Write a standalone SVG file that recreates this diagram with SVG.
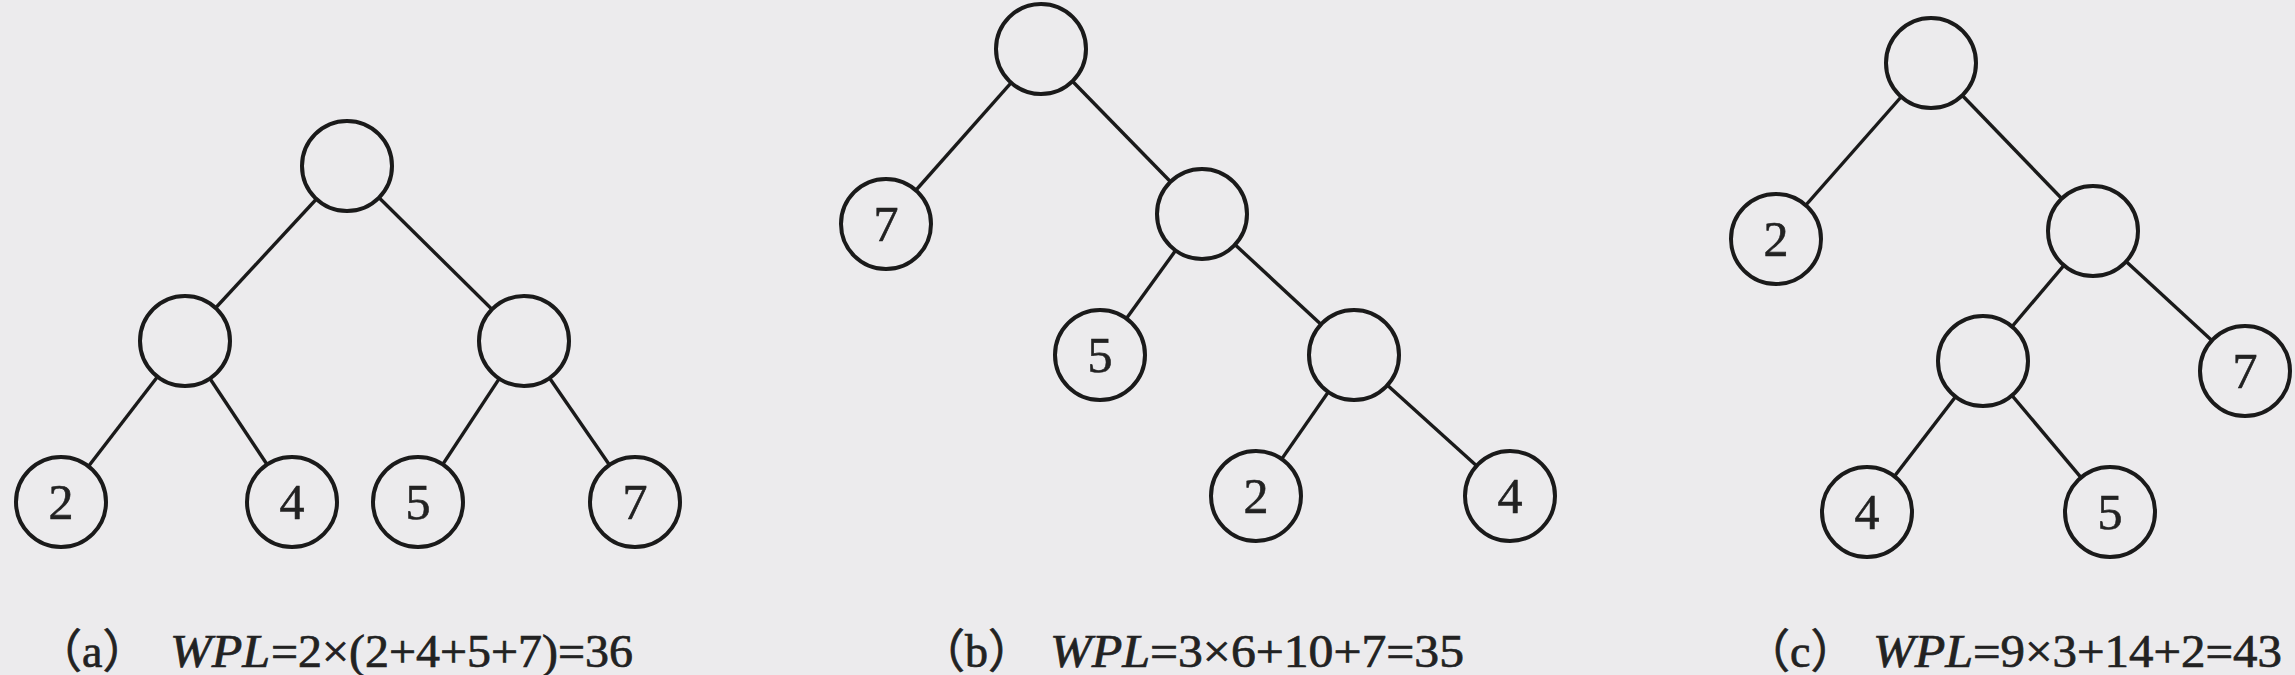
<svg xmlns="http://www.w3.org/2000/svg" width="2295" height="675" viewBox="0 0 2295 675">
<style>
.bg{fill:#ECEBED}
.e{stroke:#1a1a1a;stroke-width:3.4;fill:none}
.n{fill:#ECEBED;stroke:#1a1a1a;stroke-width:4}
.d{font-family:"Liberation Serif","Times New Roman",serif;font-size:50px;fill:#222;stroke:#222;stroke-width:0.6;text-anchor:middle}
.c{font-family:"Liberation Serif","Noto Sans CJK SC",serif;font-size:46px;fill:#222;stroke:#222;stroke-width:0.7}
.i{font-style:italic}
</style>
<rect class="bg" x="0" y="0" width="2295" height="675"/>
<g id="connectors">
<!-- tree a -->
<line class="e" x1="347" y1="166" x2="185" y2="341"/>
<line class="e" x1="347" y1="166" x2="524" y2="341"/>
<line class="e" x1="185" y1="341" x2="61" y2="502"/>
<line class="e" x1="185" y1="341" x2="292" y2="502"/>
<line class="e" x1="524" y1="341" x2="418" y2="502"/>
<line class="e" x1="524" y1="341" x2="635" y2="502"/>
<!-- tree b -->
<line class="e" x1="1041" y1="49" x2="886" y2="224"/>
<line class="e" x1="1041" y1="49" x2="1202" y2="214"/>
<line class="e" x1="1202" y1="214" x2="1100" y2="355"/>
<line class="e" x1="1202" y1="214" x2="1354" y2="355"/>
<line class="e" x1="1354" y1="355" x2="1256" y2="496"/>
<line class="e" x1="1354" y1="355" x2="1510" y2="496"/>
<!-- tree c -->
<line class="e" x1="1931" y1="63" x2="1776" y2="239"/>
<line class="e" x1="1931" y1="63" x2="2093" y2="231"/>
<line class="e" x1="2093" y1="231" x2="1983" y2="361"/>
<line class="e" x1="2093" y1="231" x2="2245" y2="371"/>
<line class="e" x1="1983" y1="361" x2="1867" y2="512"/>
<line class="e" x1="1983" y1="361" x2="2110" y2="512"/>
</g>
<g id="a-root"><circle class="n" cx="347" cy="166" r="45"/></g>
<g id="a-left"><circle class="n" cx="185" cy="341" r="45"/></g>
<g id="a-right"><circle class="n" cx="524" cy="341" r="45"/></g>
<g id="a-leaf2"><circle class="n" cx="61" cy="502" r="45"/><text class="d" x="61" y="519">2</text></g>
<g id="a-leaf4"><circle class="n" cx="292" cy="502" r="45"/><text class="d" x="292" y="519">4</text></g>
<g id="a-leaf5"><circle class="n" cx="418" cy="502" r="45"/><text class="d" x="418" y="519">5</text></g>
<g id="a-leaf7"><circle class="n" cx="635" cy="502" r="45"/><text class="d" x="635" y="519">7</text></g>

<g id="b-root"><circle class="n" cx="1041" cy="49" r="45"/></g>
<g id="b-leaf7"><circle class="n" cx="886" cy="224" r="45"/><text class="d" x="886" y="241">7</text></g>
<g id="b-mid1"><circle class="n" cx="1202" cy="214" r="45"/></g>
<g id="b-leaf5"><circle class="n" cx="1100" cy="355" r="45"/><text class="d" x="1100" y="372">5</text></g>
<g id="b-mid2"><circle class="n" cx="1354" cy="355" r="45"/></g>
<g id="b-leaf2"><circle class="n" cx="1256" cy="496" r="45"/><text class="d" x="1256" y="513">2</text></g>
<g id="b-leaf4"><circle class="n" cx="1510" cy="496" r="45"/><text class="d" x="1510" y="513">4</text></g>

<g id="c-root"><circle class="n" cx="1931" cy="63" r="45"/></g>
<g id="c-leaf2"><circle class="n" cx="1776" cy="239" r="45"/><text class="d" x="1776" y="256">2</text></g>
<g id="c-mid1"><circle class="n" cx="2093" cy="231" r="45"/></g>
<g id="c-mid2"><circle class="n" cx="1983" cy="361" r="45"/></g>
<g id="c-leaf7"><circle class="n" cx="2245" cy="371" r="45"/><text class="d" x="2245" y="388">7</text></g>
<g id="c-leaf4"><circle class="n" cx="1867" cy="512" r="45"/><text class="d" x="1867" y="529">4</text></g>
<g id="c-leaf5"><circle class="n" cx="2110" cy="512" r="45"/><text class="d" x="2110" y="529">5</text></g>

<g id="captions">
<text class="c" x="36" y="667">（a）</text>
<text class="c i" x="170" y="667" textLength="100" lengthAdjust="spacingAndGlyphs">WPL</text>
<text class="c" x="271" y="667" textLength="362" lengthAdjust="spacingAndGlyphs">=2×(2+4+5+7)=36</text>
<text class="c" x="919" y="667">（b）</text>
<text class="c i" x="1050" y="667" textLength="100" lengthAdjust="spacingAndGlyphs">WPL</text>
<text class="c" x="1150" y="667" textLength="314" lengthAdjust="spacingAndGlyphs">=3×6+10+7=35</text>
<text class="c" x="1744" y="667">（c）</text>
<text class="c i" x="1873" y="667" textLength="100" lengthAdjust="spacingAndGlyphs">WPL</text>
<text class="c" x="1973" y="667" textLength="309" lengthAdjust="spacingAndGlyphs">=9×3+14+2=43</text>
</g>
</svg>
